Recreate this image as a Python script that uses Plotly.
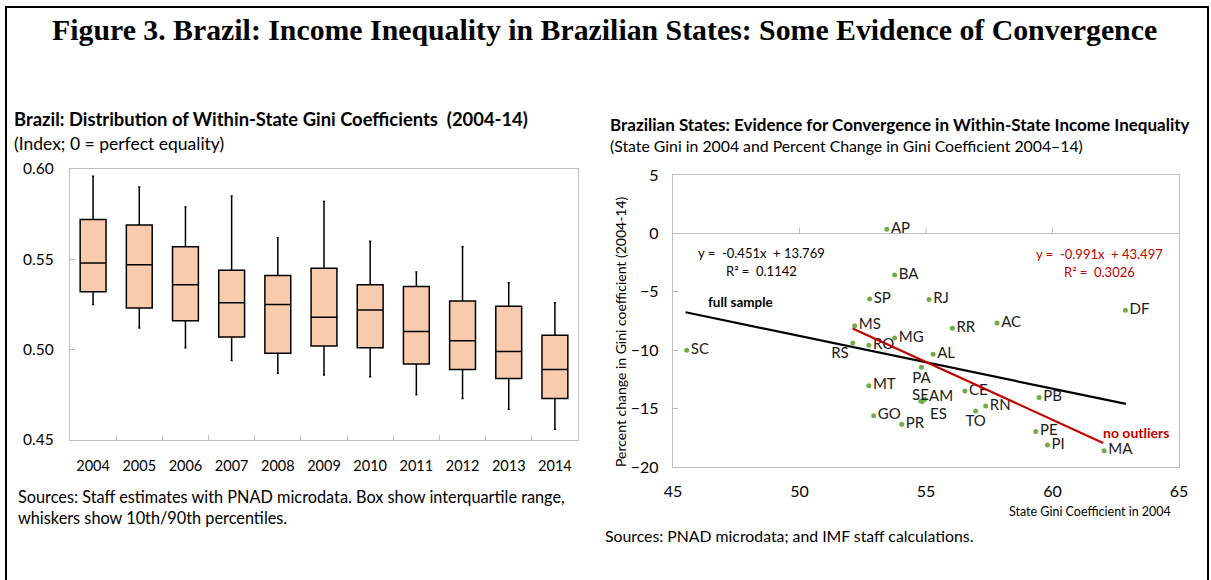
import numpy as np
import plotly.graph_objects as go

W, H = 1211, 580

# ---------------- Data: left panel (box plot) ----------------
years = ["2004", "2005", "2006", "2007", "2008", "2009", "2010", "2011", "2012", "2013", "2014"]
p10 = [0.525, 0.512, 0.501, 0.494, 0.487, 0.486, 0.485, 0.475, 0.473, 0.467, 0.456]
q1 = [0.532, 0.523, 0.516, 0.507, 0.498, 0.502, 0.501, 0.492, 0.489, 0.484, 0.473]
median = [0.548, 0.547, 0.536, 0.526, 0.525, 0.518, 0.522, 0.510, 0.505, 0.499, 0.489]
q3 = [0.572, 0.569, 0.557, 0.544, 0.541, 0.545, 0.536, 0.535, 0.527, 0.524, 0.508]
p90 = [0.596, 0.590, 0.579, 0.585, 0.562, 0.582, 0.560, 0.543, 0.557, 0.537, 0.526]
left_yticks = [0.45, 0.50, 0.55, 0.60]

# ---------------- Data: right panel (scatter) ----------------
states = ["AP", "BA", "SP", "RJ", "MS", "MG", "SC", "RS", "RO", "MT", "GO", "PR",
          "PA", "AL", "SE", "AM", "ES", "RR", "AC", "DF", "CE", "PB", "RN", "TO",
          "PE", "PI", "MA"]
gini_2004 = [53.45, 53.76, 52.77, 55.12, 52.18, 53.76, 45.54, 52.11, 52.74, 52.74, 52.93, 54.04,
             54.82, 55.28, 54.79, 54.95, 54.85, 56.04, 57.81, 62.88, 56.54, 59.47, 57.36, 56.96,
             59.34, 59.80, 62.04]
pct_change = [0.35, -3.56, -5.62, -5.65, -7.90, -8.95, -10.01, -9.38, -9.58, -13.04, -15.61, -16.33,
              -11.47, -10.35, -14.35, -14.20, -14.40, -8.13, -7.67, -6.59, -13.49, -14.06, -14.78, -15.20,
              -16.95, -18.12, -18.60]
# labels of the crowded SE/AM/ES cluster are placed as annotations
cluster = ["SE", "AM", "ES"]
label_pos = ["middle right"] * len(states)
label_pos[states.index("RS")] = "bottom left"
label_pos[states.index("PA")] = "bottom center"
label_pos[states.index("TO")] = "bottom center"
label_text = ["" if s in cluster else s for s in states]

# regression fits (as printed on the chart)
full_slope, full_intercept = -0.451, 13.769
full_x = [45.5, 62.9]
noout_slope, noout_intercept = -0.991, 43.497
noout_x = [52.1, 62.0]
full_y = list(np.array(full_x) * full_slope + full_intercept)
noout_y = list(np.array(noout_x) * noout_slope + noout_intercept)

right_xticks = [45, 50, 55, 60, 65]
right_yticks = [5, 0, -5, -10, -15, -20]
zero_tick_x = [50, 55, 60]

FONT = "Lato"
GRAY = "#BFBFBF"
RED = "#C00000"


def px(x):
    return x / W


def py(y):
    return 1 - y / H


fig = go.Figure()

fig.add_trace(go.Box(
    x=years, q1=q1, median=median, q3=q3, lowerfence=p10, upperfence=p90,
    fillcolor="#F8CBAD", line=dict(color="black", width=1.5),
    width=0.56, whiskerwidth=0.08, boxpoints=False, showlegend=False,
    xaxis="x", yaxis="y", hoverinfo="skip",
))

fig.add_trace(go.Scatter(
    x=gini_2004, y=pct_change, mode="markers+text", text=label_text,
    textposition=label_pos, textfont=dict(family=FONT, size=15, color="#1a1a1a"),
    marker=dict(color="#70AD47", size=5), showlegend=False, xaxis="x2", yaxis="y2",
    cliponaxis=False,
))
fig.add_trace(go.Scatter(
    x=full_x, y=full_y, mode="lines", line=dict(color="black", width=2.2),
    showlegend=False, xaxis="x2", yaxis="y2",
))
fig.add_trace(go.Scatter(
    x=noout_x, y=noout_y, mode="lines", line=dict(color=RED, width=2.2),
    showlegend=False, xaxis="x2", yaxis="y2",
))

shapes = [
    # outer frame
    dict(type="rect", xref="paper", yref="paper", x0=px(6), x1=px(1208), y0=-0.05, y1=py(7),
         line=dict(color="black", width=2), fillcolor="rgba(0,0,0,0)", layer="above"),
]
# pixel-sized ticks going up from the zero line
for xv in zero_tick_x:
    shapes.append(dict(type="line", xref="x2", yref="y2", ysizemode="pixel", yanchor=0,
                       x0=xv, x1=xv, y0=0, y1=6, line=dict(color=GRAY, width=1)))

ann = []


def add_text(text, x, y, size, xanchor="left", color="black", bold=False, family=FONT, **kw):
    if bold:
        text = "<b>" + text + "</b>"
    ann.append(dict(text=text, x=px(x), y=py(y), xref="paper", yref="paper", showarrow=False,
                    xanchor=xanchor, yanchor="middle", font=dict(family=family, size=size, color=color), **kw))


# cluster labels (offsets in pixels from their points)
cluster_offsets = {"SE": (0, 7, "center"), "AM": (2, 4, "left"), "ES": (6, -11, "left")}
for s in cluster:
    i = states.index(s)
    dx, dy, xa = cluster_offsets[s]
    ann.append(dict(text=s, x=gini_2004[i], y=pct_change[i], xref="x2", yref="y2", showarrow=False,
                    xshift=dx, yshift=dy, xanchor=xa, yanchor="middle",
                    font=dict(family=FONT, size=15, color="#1a1a1a")))

add_text("Figure 3. Brazil: Income Inequality in Brazilian States: Some Evidence of Convergence",
         604, 30, 29.8, xanchor="center", bold=True, family="Liberation Serif")

add_text("Brazil: Distribution of Within-State Gini Coefficients  (2004-14)", 12, 119, 18.4, bold=True)
add_text("(Index; 0 = perfect equality)", 12, 143, 17.5)
add_text("Sources: Staff estimates with PNAD microdata. Box show interquartile range,", 16, 496, 16.3)
add_text("whiskers show 10th/90th percentiles.", 16, 517, 16.3)

add_text("Brazilian States: Evidence for Convergence in Within-State Income Inequality", 608, 125, 17, bold=True)
add_text("(State Gini in 2004 and Percent Change in Gini Coefficient 2004\u201314)", 608, 146, 15.8)
add_text("Sources: PNAD microdata; and IMF staff calculations.", 603, 535, 15.8)
add_text("Percent change in Gini coefficient (2004-14)", 620, 331, 14, xanchor="center", textangle=-90)
add_text("State Gini Coefficient in 2004", 1173, 511, 12.5, xanchor="right")

add_text("y =  -0.451x  + 13.769", 761, 253, 13, xanchor="center")
add_text("R\u00b2 =  0.1142", 761, 271, 13, xanchor="center")
add_text("full sample", 740, 302, 13.5, xanchor="center", bold=True)
add_text("y =  -0.991x  + 43.497", 1099, 254, 13, xanchor="center", color=RED)
add_text("R\u00b2 =  0.3026", 1099, 272, 13, xanchor="center", color=RED)
add_text("no outliers", 1136, 432, 14, xanchor="center", color=RED, bold=True)

fig.update_layout(
    width=W, height=H, margin=dict(l=0, r=0, t=0, b=0, autoexpand=False),
    paper_bgcolor="white", plot_bgcolor="white",
    font=dict(family=FONT, color="black"),
    shapes=shapes, annotations=ann,
    xaxis=dict(domain=[px(70), px(578)], type="category", range=[-0.5, 10.5], automargin=False,
               showline=True, mirror=True, linecolor=GRAY, linewidth=1.3,
               ticks="inside", tickson="boundaries", ticklen=5, tickcolor=GRAY,
               showgrid=False, tickfont=dict(size=14.5), ticklabelstandoff=12),
    yaxis=dict(domain=[py(440), py(169)], range=[0.45, 0.60], tickvals=left_yticks, automargin=False,
               tickformat=".2f", showline=True, mirror=True, linecolor=GRAY, linewidth=1.3,
               ticks="inside", ticklen=5, tickcolor=GRAY, showgrid=False, zeroline=False,
               tickfont=dict(size=15.5), ticklabelstandoff=12),
    xaxis2=dict(domain=[px(673), px(1179)], range=[45, 65], tickvals=right_xticks, automargin=False,
                showline=True, mirror=True, linecolor=GRAY, linewidth=1.3, ticks="",
                showgrid=False, zeroline=False, tickfont=dict(size=16), ticklabelstandoff=10,
                anchor="y2"),
    yaxis2=dict(domain=[py(467), py(175)], range=[-20, 5], tickvals=right_yticks, automargin=False,
                showline=True, mirror=True, linecolor=GRAY, linewidth=1.3,
                ticks="inside", ticklen=5, tickcolor=GRAY, showgrid=False,
                zeroline=True, zerolinecolor=GRAY, zerolinewidth=1.3,
                tickfont=dict(size=16), ticklabelstandoff=10, anchor="x2"),
)

fig.write_html("out.html", config={"displayModeBar": False},
               post_script="document.body.style.margin='0px';document.body.style.overflow='hidden';")
